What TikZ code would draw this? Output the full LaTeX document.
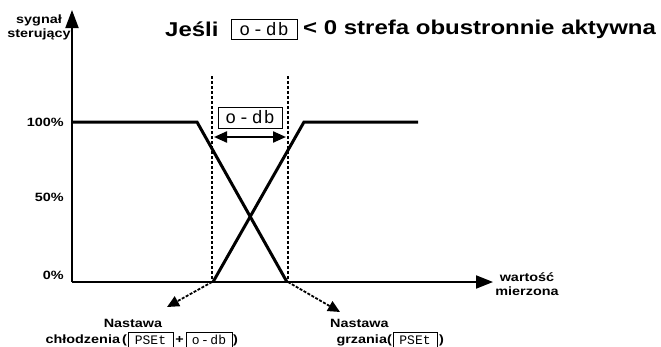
\documentclass[tikz,border=0pt]{standalone}
\usepackage{fontspec}
\setmainfont{Liberation Sans}[FakeStretch=1.2]
\newfontfamily\segfont{Liberation Mono}
\usetikzlibrary{arrows.meta}
\newcommand{\sgap}{\hspace{2.5pt}}
\begin{document}
\begin{tikzpicture}[x=1pt,y=-1pt,
  axisline/.style={line width=2pt},
  graphline/.style={line width=3pt,line join=miter},
  guide/.style={line width=1.3pt,dash pattern=on 3pt off 2pt},
  pointer/.style={line width=1.8pt,dash pattern=on 3pt off 1.5pt,-{Triangle[length=12pt,width=11pt]}},
  lbl/.style={font=\bfseries\fontsize{12}{14}\selectfont,align=center,inner sep=0pt},
  ttl/.style={font=\bfseries\fontsize{20}{22}\selectfont,inner sep=0pt},
  segbox/.style={draw,line width=0.8pt,inner xsep=1pt,inner ysep=0pt,font=\segfont\fontsize{#1}{#1}\selectfont},
  segbox/.default=12]
\useasboundingbox (0,0) rectangle (661,346);
% axes
\coordinate (O) at (72,282);
\coordinate (ytop) at (72,10);
\coordinate (xend) at (493,282);
\draw[axisline,-{Triangle[length=18pt,width=13pt]}] (O) -- (ytop);
\draw[axisline,-{Triangle[length=17pt,width=13pt]}] (O) -- (xend);
% guides
\coordinate (g1t) at (212,76); \coordinate (g1b) at (212,282);
\coordinate (g2t) at (288,76); \coordinate (g2b) at (288,282);
\draw[guide] (g1t) -- (g1b);
\draw[guide] (g2t) -- (g2b);
% curves
\coordinate (c0) at (72,122); \coordinate (c1) at (197,122); \coordinate (c2) at (287,282);
\coordinate (h0) at (213,282); \coordinate (h1) at (304,122); \coordinate (h2) at (418,122);
\draw[graphline] (c0) -- (c1) -- (c2);
\draw[graphline] (h0) -- (h1) -- (h2);
% dead band
\coordinate (a1) at (214,137); \coordinate (a2) at (286,137);
\draw[line width=2.2pt,{Triangle[length=13pt,width=11pt]}-{Triangle[length=13pt,width=11pt]}] (a1) -- (a2);
\node[segbox=18,minimum width=64pt,minimum height=21pt] (db) at (250,117.5) {o\sgap-\sgap d\hspace{1pt}b};
% axis labels
\node[lbl] (ylab) at (39,27) {sygnał\\sterujący};
\node[lbl,anchor=east] (p100) at (64,122) {100\%};
\node[lbl,anchor=east] (p50) at (64,197) {50\%};
\node[lbl,anchor=east] (p0) at (64,275) {0\%};
\node[lbl] (xlab) at (527,284) {wartość\\mierzona};
% title
\node[ttl,anchor=west] (t1) at (165,29) {Jeśli};
\node[segbox=18,minimum width=66pt,minimum height=20pt] (tb) at (264,29) {o\sgap-\sgap d\hspace{1pt}b};
\node[ttl,anchor=west] (t2) at (303,29) {< 0 strefa obustronnie aktywna};
% pointers
\coordinate (pl) at (167,307);
\coordinate (pr) at (340,312);
\draw[pointer] (g1b) -- (pl);
\draw[pointer] (g2b) -- (pr);
% set point labels
\node[lbl] (n1) at (133,323) {Nastawa};
\node[lbl,anchor=east] (n1b) at (127,340) {chłodzenia\,(};
\node[segbox=13,minimum width=45pt,minimum height=15pt] (b1) at (150.5,340) {PSEt};
\node[lbl] (plus) at (179.5,340) {+};
\node[segbox=13,minimum width=46pt,minimum height=15pt] (b2) at (209,340) {o\hspace{1.5pt}-\hspace{1.5pt}db};
\node[lbl,anchor=west] (cl1) at (233,340) {)};
\node[lbl,anchor=west] (n2) at (330,323) {Nastawa};
\node[lbl,anchor=east] (n2b) at (392,340) {grzania(};
\node[segbox=13,minimum width=44pt,minimum height=15pt] (b3) at (415,340) {PSEt};
\node[lbl,anchor=west] (cl2) at (439,340) {)};
\end{tikzpicture}
\end{document}
